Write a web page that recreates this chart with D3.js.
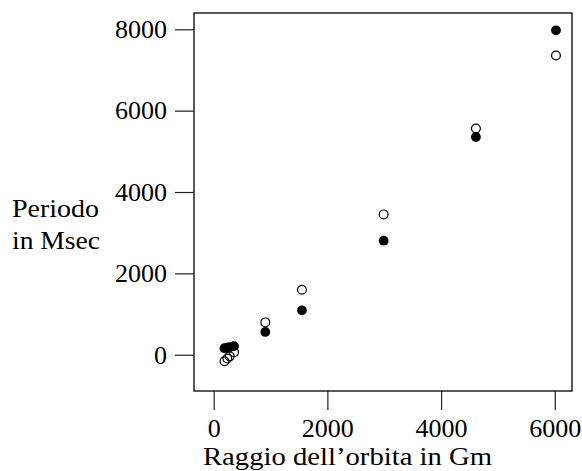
<!DOCTYPE html>
<html>
<head>
<meta charset="utf-8">
<script src="https://cdn.jsdelivr.net/npm/d3@7"></script>
<style>
  html, body { margin: 0; padding: 0; background: #fff; }
  svg text { font-family: "Liberation Serif", "Times New Roman", serif; fill: #000; }
</style>
</head>
<body>
<svg id="chart" width="582" height="471"></svg>
<script>
// Orbit radius (Gm) of each body, observed period and the straight-line fit (Msec)
const radius = [190, 240, 282, 358, 908, 1553, 2990, 4613, 6021];
const period = [160, 172, 185, 212, 560, 1091, 2803, 5352, 7975];
const fitted = [-160, -95, -40, 60, 795, 1598, 3450, 5562, 7355];

const xTicks = [0, 2000, 4000, 6000];
const yTicks = [0, 2000, 4000, 6000, 8000];

const xTitle = "Raggio dell’orbita in Gm";
const yTitle = ["Periodo", "in Msec"];

const margin = { left: 194, top: 13 };
const width = 378, height = 378;

const svg = d3.select("#chart");
const g = svg.append("g").attr("transform", `translate(${margin.left},${margin.top})`);

const x = d3.scaleLinear().domain([-346, 6303]).range([0, width]);
const y = d3.scaleLinear().domain([-892, 8401]).range([height, 0]);

// frame around the plotting region
g.append("rect")
  .attr("x", 0).attr("y", 0)
  .attr("width", width).attr("height", height)
  .attr("fill", "none").attr("stroke", "#000").attr("stroke-width", 1.3);

// bottom axis
const xAxis = g.append("g")
  .attr("transform", `translate(0,${height})`)
  .call(d3.axisBottom(x).tickValues(xTicks).tickFormat(d3.format("d")).tickSize(19));
xAxis.select(".domain").remove();
xAxis.selectAll("line").attr("stroke", "#222").attr("stroke-width", 1.2);
xAxis.selectAll("text")
  .attr("dy", null).attr("y", 46)
  .style("font-size", "26px");

// left axis
const yAxis = g.append("g")
  .call(d3.axisLeft(y).tickValues(yTicks).tickFormat(d3.format("d")).tickSize(19));
yAxis.select(".domain").remove();
yAxis.selectAll("line").attr("stroke", "#222").attr("stroke-width", 1.2);
yAxis.selectAll("text")
  .attr("x", -27)
  .style("font-size", "26px");

// axis titles
svg.append("text")
  .attr("x", 203).attr("y", 465)
  .attr("textLength", 289).attr("lengthAdjust", "spacingAndGlyphs")
  .style("font-size", "26px")
  .text(xTitle);

svg.selectAll("text.ytitle")
  .data(yTitle)
  .enter().append("text")
  .attr("class", "ytitle")
  .attr("x", 12)
  .attr("y", (d, i) => 217 + i * 32)
  .attr("textLength", (d, i) => i === 0 ? 87 : 88)
  .attr("lengthAdjust", "spacingAndGlyphs")
  .style("font-size", "26px")
  .text(d => d);

// fitted values: open circles
g.selectAll("circle.fit")
  .data(radius)
  .enter().append("circle")
  .attr("class", "fit")
  .attr("cx", d => x(d))
  .attr("cy", (d, i) => y(fitted[i]))
  .attr("r", 4.4)
  .attr("fill", "none")
  .attr("stroke", "#000")
  .attr("stroke-width", 1.2);

// observed values: filled circles
g.selectAll("circle.obs")
  .data(radius)
  .enter().append("circle")
  .attr("class", "obs")
  .attr("cx", d => x(d))
  .attr("cy", (d, i) => y(period[i]))
  .attr("r", 4.9)
  .attr("fill", "#000");
</script>
</body>
</html>
